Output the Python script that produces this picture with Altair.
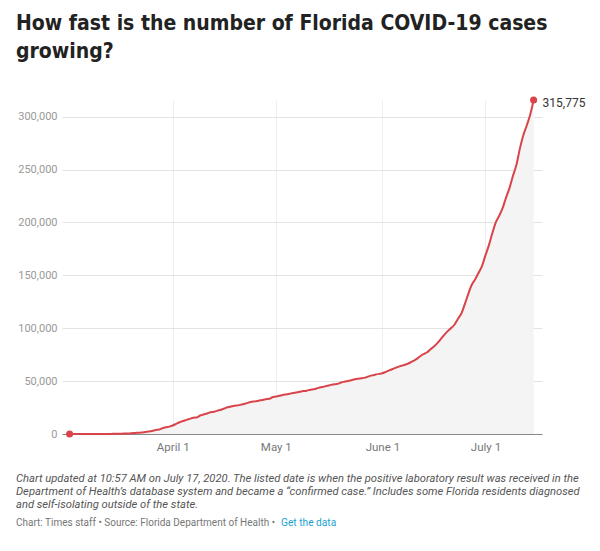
import altair as alt
import pandas as pd

# Cumulative Florida COVID-19 cases, one value per day starting 2020-03-02
start_date = "2020-03-02"
cases = [
    # March 2 - March 31
    3, 3, 4, 7, 12, 13, 14, 15, 21, 30, 50, 77, 100, 155, 216, 314, 432, 563,
    764, 1007, 1227, 1412, 1977, 2355, 2900, 3763, 4246, 5473, 6338,
    6955,
    # April
    8010, 9585, 11111, 12350, 13324, 14302, 15456, 15698, 17531, 18494, 19355,
    20601, 21019, 22081, 22897, 24119, 25269, 25996, 26660, 27059, 27869,
    28576, 29648, 30533, 30839, 31528, 32138, 32846, 33193, 34728,
    # May
    35463, 36078, 36897, 37439, 38002, 38828, 39199, 39890, 40596, 40982,
    41923, 42402, 43210, 44138, 44811, 45588, 46442, 46944, 47471, 48675,
    49451, 50127, 50867, 51746, 52255, 52634, 53285, 54497, 55424, 56163,
    56830,
    # June
    57447, 58764, 60183, 61488, 62758, 63938, 64904, 66000, 67371, 69069,
    70971, 73552, 75568, 77326, 80109, 82719, 85926, 89748, 93797, 97291,
    100217, 103503, 109014, 114018, 122960, 132545, 141075, 146341, 152434,
    158997,
    # July 1 - July 15
    169106, 178594, 190052, 200111, 206447, 213794, 223783, 232718, 244151,
    254511, 269811, 282435, 291629, 301810, 315775,
]
y_ticks = [0, 50000, 100000, 150000, 200000, 250000, 300000]

title_lines = ["How fast is the number of Florida COVID-19 cases", "growing?"]
note_lines = [
    "Chart updated at 10:57 AM on July 17, 2020. The listed date is when the positive laboratory result was received in the",
    "Department of Health\u2019s database system and became a \u201cconfirmed case.\u201d Includes some Florida residents diagnosed",
    "and self-isolating outside of the state.",
]
source_text = "Chart: Times staff \u2022 Source: Florida Department of Health \u2022"
link_text = "Get the data"

dates = pd.date_range(start_date, periods=len(cases), freq="D")
df = pd.DataFrame({"date": dates.strftime("%Y-%m-%d"), "cases": cases})
ends = df.iloc[[0, len(df) - 1]].reset_index(drop=True)
last = df.iloc[[len(df) - 1]].reset_index(drop=True)

W, H = 480, 334
RED = "#d9444b"
FONT = "Roboto"

x_enc = alt.X(
    "date:T",
    scale=alt.Scale(
        type="utc",
        domain=[
            alt.DateTime(year=2020, month=2, date=28, hours=19, utc=True),
            alt.DateTime(year=2020, month=7, date=17, hours=10, minutes=30, utc=True),
        ],
    ),
    axis=alt.Axis(
        title=None,
        values=[
            alt.DateTime(year=2020, month=4, date=1, utc=True),
            alt.DateTime(year=2020, month=5, date=1, utc=True),
            alt.DateTime(year=2020, month=6, date=1, utc=True),
            alt.DateTime(year=2020, month=7, date=1, utc=True),
        ],
        labelExpr="utcFormat(datum.value, '%B') + ' ' + utcdate(datum.value)",
        ticks=False,
        domain=True,
        domainColor="#888888",
        domainWidth=1,
        grid=True,
        gridColor="#eeeeee",
        labelColor="#777777",
        labelFont=FONT,
        labelFontSize=11.5,
        labelPadding=7,
    ),
)
y_enc = alt.Y(
    "cases:Q",
    scale=alt.Scale(domain=[0, 315775], nice=False),
    axis=alt.Axis(
        title=None,
        values=y_ticks,
        format=",.0f",
        ticks=False,
        domain=False,
        grid=True,
        gridColor="#e3e3e3",
        labelColor="#999999",
        labelFont=FONT,
        labelFontSize=11,
        labelPadding=5,
    ),
)

base = alt.Chart(df)
area = base.mark_area(color="#f4f4f4", interpolate="monotone").encode(x=x_enc, y=y_enc)
line = base.mark_line(color=RED, strokeWidth=2, interpolate="monotone").encode(x="date:T", y="cases:Q")
pts = alt.Chart(ends).mark_point(filled=True, color=RED, size=50, opacity=1).encode(x="date:T", y="cases:Q")
lbl = alt.Chart(last).mark_text(
    align="left", baseline="middle", dx=9, dy=3, font=FONT, fontSize=12, color="#333333"
).encode(x="date:T", y="cases:Q", text=alt.Text("cases:Q", format=",.0f"))

one = pd.DataFrame({"k": [0]})
notes = alt.Chart(one).mark_text(
    text=note_lines, align="left", baseline="alphabetic", font=FONT, fontStyle="italic",
    fontSize=11.2, lineHeight=13, color="#555555",
).encode(x=alt.value(-46), y=alt.value(382))
source = alt.Chart(one).mark_text(
    text=source_text, align="left", baseline="alphabetic", font=FONT,
    fontSize=10, color="#777777",
).encode(x=alt.value(-46), y=alt.value(426))
link = alt.Chart(one).mark_text(
    text=link_text, align="left", baseline="alphabetic", font=FONT,
    fontSize=10.2, color="#1b9fd1",
).encode(x=alt.value(219), y=alt.value(426))

chart = (
    alt.layer(area, line, pts, lbl, notes, source, link)
    .properties(
        width=W,
        height=H,
        padding={"left": 8, "top": 5, "right": 2, "bottom": 5},
        title=alt.Title(
            text=title_lines,
            anchor="start",
            frame="bounds",
            font="Liberation Sans Narrow, DejaVu Sans Condensed, Roboto",
            fontSize=21,
            fontWeight="bold",
            color="#222222",
            lineHeight=28,
            offset=34,
        ),
    )
    .configure_view(stroke=None)
)

chart.save("out.html", embed_options={"renderer": "svg", "actions": False})
